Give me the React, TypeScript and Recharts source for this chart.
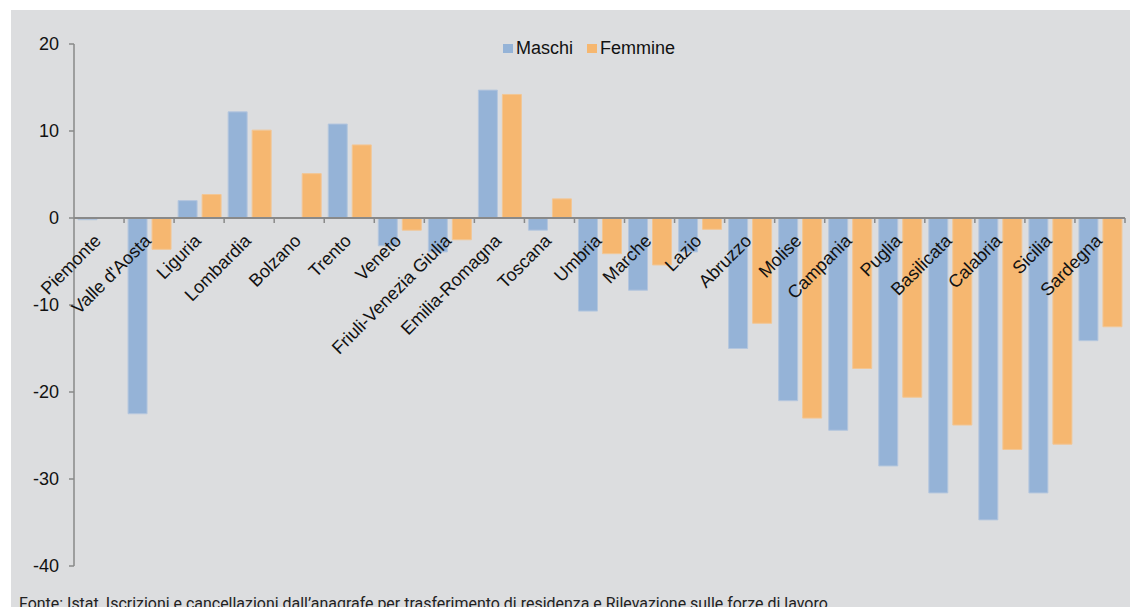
import React from 'react';
import { BarChart, Bar, XAxis, YAxis, ReferenceLine, Legend } from 'recharts';

// Saldo migratorio per regione, maschi e femmine
const regions = [
    'Piemonte', "Valle d'Aosta", 'Liguria', 'Lombardia', 'Bolzano', 'Trento', 'Veneto',
    'Friuli-Venezia Giulia', 'Emilia-Romagna', 'Toscana', 'Umbria', 'Marche', 'Lazio',
    'Abruzzo', 'Molise', 'Campania', 'Puglia', 'Basilicata', 'Calabria', 'Sicilia', 'Sardegna'
];
const maschi = [
    -0.2, -22.5, 2.0, 12.2, 0, 10.8, -3.2, -3.9, 14.7, -1.4, -10.7,
    -8.3, -3.9, -15.0, -21.0, -24.4, -28.5, -31.6, -34.7, -31.6, -14.1
];
const femmine = [
    0, -3.6, 2.7, 10.1, 5.1, 8.4, -1.4, -2.5, 14.2, 2.2, -4.1,
    -5.4, -1.3, -12.1, -23.0, -17.3, -20.6, -23.8, -26.6, -26.0, -12.5
];
const yTicks = [20, 10, 0, -10, -20, -30, -40];

const data = regions.map((name, i) => ({ name, maschi: maschi[i], femmine: femmine[i] }));

const W = 1130;
const H = 607;
const BG = '#DCDDDF';
const AXIS = '#898989';
const BLUE = '#95B3D7';
const ORANGE = '#F6B770';

// plot area layout
const PLOT_TOP = 44;
const PLOT_LEFT = 74;
const PLOT_RIGHT = 1125;
const PLOT_BOTTOM = 566;
const Y_MAX = 20;
const Y_MIN = -40;
const ZERO_Y = PLOT_TOP + (PLOT_BOTTOM - PLOT_TOP) * Y_MAX / (Y_MAX - Y_MIN);
const BAND = (PLOT_RIGHT - PLOT_LEFT) / regions.length;

const CategoryTick = ({ x, payload }: any) => {
    const tx = x + 3;
    const ty = ZERO_Y + 24;
    return (
        <g>
            <line x1={x + BAND / 2} x2={x + BAND / 2} y1={ZERO_Y} y2={ZERO_Y + 5} stroke={AXIS} strokeWidth={1.5} />
            <text
                x={tx}
                y={ty}
                transform={`rotate(-45 ${tx} ${ty})`}
                textAnchor="end"
                fontSize={18}
                fontFamily="'Liberation Sans', Arial, sans-serif"
                fill="#111"
            >
                {payload.value}
            </text>
        </g>
    );
};

const LegendContent = () => (
    <div style={{ display: 'flex', alignItems: 'center', fontFamily: "'Liberation Sans', Arial, sans-serif", fontSize: 18, color: '#111' }}>
        <span style={{ width: 10, height: 9, background: BLUE, marginRight: 3 }} />
        <span style={{ marginRight: 14 }}>Maschi</span>
        <span style={{ width: 10, height: 9, background: ORANGE, marginRight: 3 }} />
        <span>Femmine</span>
    </div>
);

export default function App() {
    return (
        <div style={{ position: 'absolute', left: 0, top: 0, width: W, height: H, background: '#fff', overflow: 'hidden' }}>
            <div style={{ position: 'absolute', left: 11, top: 10, right: 0, bottom: 0, background: BG }} />
            <div style={{ position: 'absolute', left: 0, top: 0 }}>
                <BarChart
                    width={W}
                    height={H}
                    data={data}
                    barSize={19}
                    barGap={5}
                    margin={{ top: PLOT_TOP, right: W - PLOT_RIGHT, left: PLOT_LEFT - 60, bottom: H - PLOT_BOTTOM - 1 }}
                >
                    <XAxis
                        dataKey="name"
                        axisLine={false}
                        tickLine={false}
                        height={1}
                        interval={0}
                        tick={<CategoryTick />}
                    />
                    <YAxis
                        width={60}
                        domain={[Y_MIN, Y_MAX]}
                        ticks={yTicks}
                        interval={0}
                        axisLine={{ stroke: AXIS, strokeWidth: 1.5 }}
                        tickLine={{ stroke: AXIS, strokeWidth: 1.5 }}
                        tickSize={5}
                        tickMargin={10}
                        tick={{ fill: '#111', fontSize: 18, fontFamily: "'Liberation Sans', Arial, sans-serif" }}
                    />
                    <Legend
                        layout="horizontal"
                        verticalAlign="middle"
                        align="center"
                        content={<LegendContent />}
                        wrapperStyle={{ top: 38, left: 503, width: 'auto', height: 20 }}
                    />
                    <Bar dataKey="maschi" name="Maschi" fill={BLUE} stroke="#B4C6DE" strokeWidth={1} isAnimationActive={false} />
                    <Bar dataKey="femmine" name="Femmine" fill={ORANGE} stroke="#F2C695" strokeWidth={1} isAnimationActive={false} />
                    <ReferenceLine y={0} stroke={AXIS} strokeWidth={2} />
                </BarChart>
            </div>
            <svg width={W} height={H} style={{ position: 'absolute', left: 0, top: 0, pointerEvents: 'none' }}>
                <text
                    x={19}
                    y={608.5}
                    fontSize={17}
                    fontFamily="Roboto, sans-serif"
                    fill="#222"
                    textLength={813}
                    lengthAdjust="spacingAndGlyphs"
                >
                    Fonte: Istat, Iscrizioni e cancellazioni dall’anagrafe per trasferimento di residenza e Rilevazione sulle forze di lavoro.
                </text>
            </svg>
        </div>
    );
}
